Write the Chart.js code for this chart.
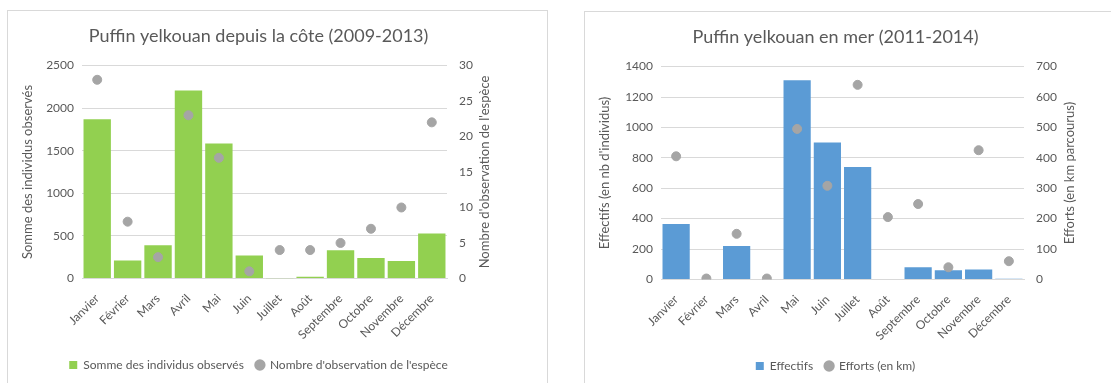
<!DOCTYPE html>
<html>
<head>
<meta charset="utf-8">
<script src="https://cdn.jsdelivr.net/npm/chart.js@4"></script>
<style>
  body { margin: 0; background: #fff; width: 1111px; height: 383px; overflow: hidden; position: relative; }
  .box { position: absolute; border: 1px solid #d9d9d9; background: #fff; }
  #boxLeft { left: 7px; top: 10px; width: 539px; height: 380px; }
  #boxRight { left: 584px; top: 11px; width: 539px; height: 380px; }
  canvas { display: block; }
</style>
</head>
<body>
<div class="box" id="boxLeft"><canvas id="coast" width="539" height="380"></canvas></div>
<div class="box" id="boxRight"><canvas id="sea" width="539" height="380"></canvas></div>
<script>
const months = ['Janvier', 'Février', 'Mars', 'Avril', 'Mai', 'Juin', 'Juillet', 'Août', 'Septembre', 'Octobre', 'Novembre', 'Décembre']

// depuis la côte (2009-2013)
const coastSum = [1870, 212, 390, 2207, 1586, 270, 2, 20, 332, 240, 205, 529]
const coastObs = [28, 8, 3, 23, 17, 1, 4, 4, 5, 7, 10, 22]

// en mer (2011-2014)
const seaCount = [365, 0, 220, 0, 1310, 900, 740, 0, 80, 60, 65, 5]
const seaEffort = [405, 3, 150, 3, 495, 308, 640, 205, 248, 40, 425, 60]

const FONT = 'Lato, "Open Sans", sans-serif'
const GREY_TXT = '#595959'
Chart.defaults.font.family = FONT
Chart.defaults.color = GREY_TXT
Chart.defaults.animation = false

// right axis title, turned the same way as the left one (bottom to top)
const rightTitle = {
    id: 'rightTitle',
    afterDraw(chart, args, opts) {
        const { ctx, chartArea } = chart
        ctx.save()
        ctx.translate(chartArea.right + opts.offset, (chartArea.top + chartArea.bottom) / 2)
        ctx.rotate(-Math.PI / 2)
        ctx.font = '13px ' + FONT
        ctx.fillStyle = GREY_TXT
        ctx.textAlign = 'center'
        ctx.textBaseline = 'middle'
        ctx.fillText(opts.text, 0, 0)
        ctx.restore()
    }
}

function makeChart(id, cfg) {
    const fixW = (w) => (scale) => { scale.width = w }
    return new Chart(document.getElementById(id), {
        data: {
            labels: months,
            datasets: [
                {
                    type: 'scatter',
                    label: cfg.dotLabel,
                    data: cfg.dots,
                    yAxisID: 'y1',
                    backgroundColor: '#a5a5a5',
                    borderColor: '#a5a5a5',
                    pointRadius: 4.5,
                    pointStyle: 'circle',
                    order: 0
                },
                {
                    type: 'bar',
                    label: cfg.barLabel,
                    data: cfg.bars,
                    yAxisID: 'y',
                    backgroundColor: cfg.barColor,
                    borderWidth: 0,
                    categoryPercentage: 1,
                    barPercentage: 0.9,
                    order: 1
                }
            ]
        },
        plugins: [rightTitle],
        options: {
            responsive: false,
            layout: { padding: { left: 12, right: 50, top: 0, bottom: 10 } },
            plugins: {
                rightTitle: { text: cfg.y1Title, offset: cfg.y1TitleOffset },
                title: {
                    display: true,
                    text: cfg.title,
                    color: GREY_TXT,
                    font: { size: 18, weight: 'normal' },
                    padding: { top: 14, bottom: 19 }
                },
                legend: {
                    position: 'bottom',
                    reverse: true,
                    labels: {
                        usePointStyle: true,
                        boxWidth: 8,
                        boxHeight: 8,
                        padding: 12,
                        font: { size: 12 },
                        generateLabels: (chart) => Chart.defaults.plugins.legend.labels.generateLabels(chart).map(l => {
                            const ds = chart.data.datasets[l.datasetIndex]
                            l.pointStyle = ds.type === 'scatter' ? 'circle' : 'rect'
                            l.fillStyle = ds.backgroundColor
                            l.strokeStyle = ds.backgroundColor
                            l.lineWidth = 0
                            return l
                        })
                    }
                },
                tooltip: { enabled: false }
            },
            scales: {
                x: {
                    type: 'category',
                    offset: true,
                    grid: { display: false },
                    border: { display: true, color: '#d9d9d9' },
                    ticks: { maxRotation: 45, minRotation: 45, font: { size: 12 }, color: GREY_TXT, padding: 5 }
                },
                y: {
                    position: 'left',
                    min: 0, max: cfg.yMax,
                    ticks: { stepSize: cfg.yStep, font: { size: 12 }, color: GREY_TXT, padding: 8, callback: v => String(v) },
                    grid: { color: '#d9d9d9', drawTicks: false },
                    border: { display: false },
                    title: { display: true, text: cfg.yTitle, font: { size: 13 }, color: GREY_TXT, padding: 0 },
                    afterFit: fixW(cfg.leftW)
                },
                y1: {
                    position: 'right',
                    min: 0, max: cfg.y1Max,
                    ticks: { stepSize: cfg.y1Step, font: { size: 12 }, color: GREY_TXT, padding: 12, callback: v => String(v) },
                    grid: { display: false, drawTicks: false },
                    border: { display: false },
                    afterFit: fixW(cfg.rightW)
                }
            }
        }
    })
}

makeChart('coast', {
    title: 'Puffin yelkouan depuis la côte (2009-2013)',
    bars: coastSum, dots: coastObs,
    barLabel: 'Somme des individus observés',
    dotLabel: "Nombre d'observation de l'espèce",
    barColor: '#92d050',
    yMax: 2500, yStep: 500, y1Max: 30, y1Step: 5,
    yTitle: 'Somme des individus observés',
    y1Title: "Nombre d'observation de l'espèce",
    y1TitleOffset: 38,
    leftW: 62, rightW: 50
})

makeChart('sea', {
    title: 'Puffin yelkouan en mer (2011-2014)',
    bars: seaCount, dots: seaEffort,
    barLabel: 'Effectifs',
    dotLabel: 'Efforts (en km)',
    barColor: '#5b9bd5',
    yMax: 1400, yStep: 200, y1Max: 700, y1Step: 100,
    yTitle: "Effectifs (en nb d'individus)",
    y1Title: 'Efforts (en km parcourus)',
    y1TitleOffset: 46,
    leftW: 64, rightW: 50
})
</script>
</body>
</html>
